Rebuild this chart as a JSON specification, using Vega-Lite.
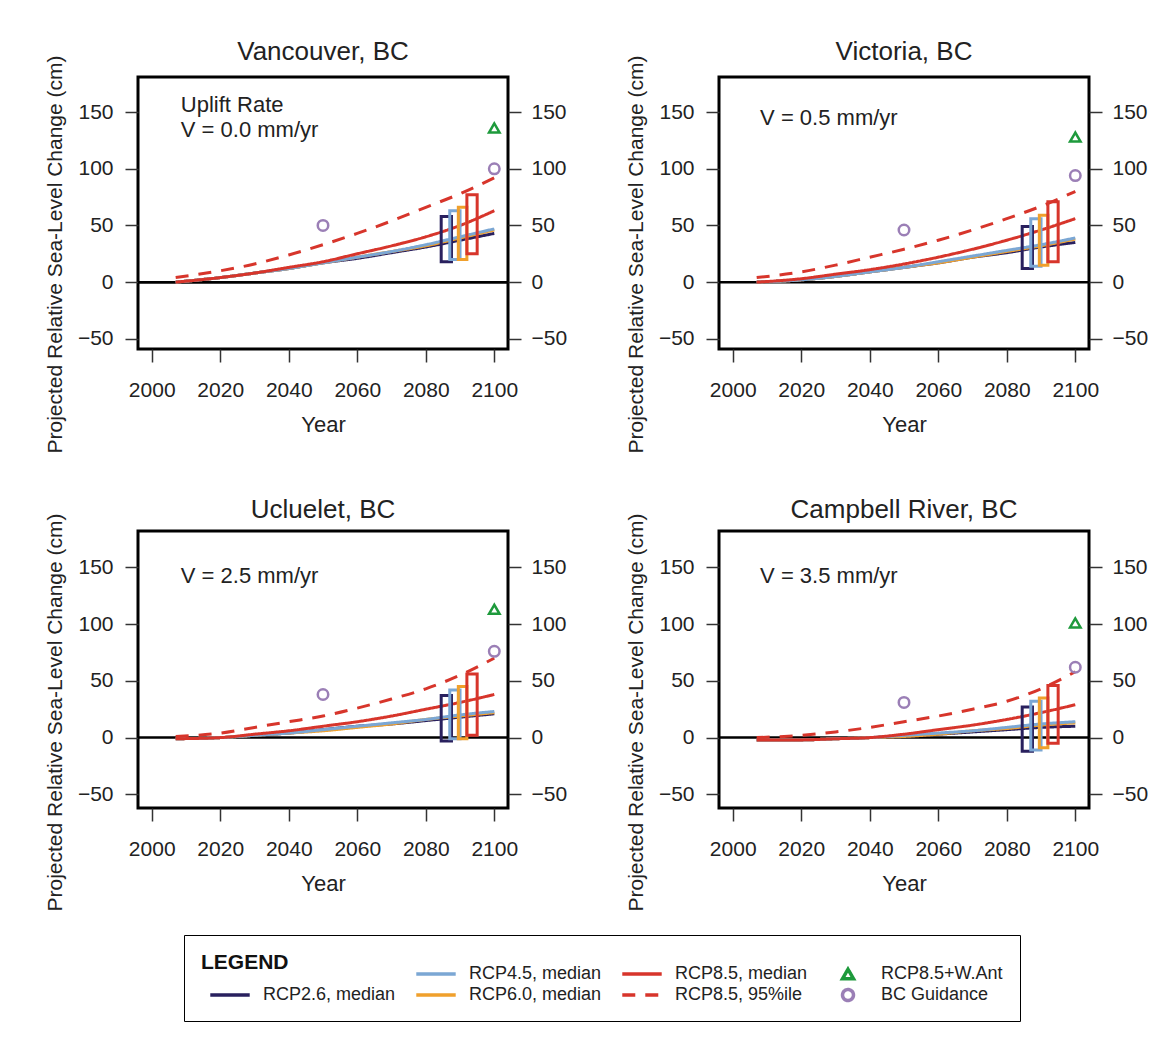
{
  "$schema": "https://vega.github.io/schema/vega-lite/v6.json",
  "background": "white",
  "padding": {"left": 42, "top": 37, "right": 5, "bottom": 5},
  "datasets": {
    "d": [
      {"city":"Vancouver, BC","kind":"note","series":" ","note":"Uplift Rate","year":2008.5,"cm":156},
      {"city":"Vancouver, BC","kind":"note","series":" ","note":"V = 0.0 mm/yr","year":2008.5,"cm":134},
      {"city":"Victoria, BC","kind":"note","series":" ","note":"V = 0.5 mm/yr","year":2008,"cm":145},
      {"city":"Ucluelet, BC","kind":"note","series":" ","note":"V = 2.5 mm/yr","year":2008.5,"cm":142},
      {"city":"Campbell River, BC","kind":"note","series":" ","note":"V = 3.5 mm/yr","year":2008,"cm":142},

      {"city":"Vancouver, BC","kind":"line","series":"RCP2.6, median","year":2007,"cm":0},
      {"city":"Vancouver, BC","kind":"line","series":"RCP2.6, median","year":2020,"cm":4},
      {"city":"Vancouver, BC","kind":"line","series":"RCP2.6, median","year":2030,"cm":8},
      {"city":"Vancouver, BC","kind":"line","series":"RCP2.6, median","year":2040,"cm":12},
      {"city":"Vancouver, BC","kind":"line","series":"RCP2.6, median","year":2050,"cm":17},
      {"city":"Vancouver, BC","kind":"line","series":"RCP2.6, median","year":2060,"cm":21},
      {"city":"Vancouver, BC","kind":"line","series":"RCP2.6, median","year":2070,"cm":26},
      {"city":"Vancouver, BC","kind":"line","series":"RCP2.6, median","year":2080,"cm":31},
      {"city":"Vancouver, BC","kind":"line","series":"RCP2.6, median","year":2090,"cm":37},
      {"city":"Vancouver, BC","kind":"line","series":"RCP2.6, median","year":2100,"cm":43},
      {"city":"Vancouver, BC","kind":"line","series":"RCP4.5, median","year":2007,"cm":0},
      {"city":"Vancouver, BC","kind":"line","series":"RCP4.5, median","year":2020,"cm":4},
      {"city":"Vancouver, BC","kind":"line","series":"RCP4.5, median","year":2030,"cm":8},
      {"city":"Vancouver, BC","kind":"line","series":"RCP4.5, median","year":2040,"cm":12},
      {"city":"Vancouver, BC","kind":"line","series":"RCP4.5, median","year":2050,"cm":17},
      {"city":"Vancouver, BC","kind":"line","series":"RCP4.5, median","year":2060,"cm":22},
      {"city":"Vancouver, BC","kind":"line","series":"RCP4.5, median","year":2070,"cm":27},
      {"city":"Vancouver, BC","kind":"line","series":"RCP4.5, median","year":2080,"cm":33},
      {"city":"Vancouver, BC","kind":"line","series":"RCP4.5, median","year":2090,"cm":40},
      {"city":"Vancouver, BC","kind":"line","series":"RCP4.5, median","year":2100,"cm":47},
      {"city":"Vancouver, BC","kind":"line","series":"RCP6.0, median","year":2007,"cm":0},
      {"city":"Vancouver, BC","kind":"line","series":"RCP6.0, median","year":2020,"cm":4},
      {"city":"Vancouver, BC","kind":"line","series":"RCP6.0, median","year":2030,"cm":8},
      {"city":"Vancouver, BC","kind":"line","series":"RCP6.0, median","year":2040,"cm":12},
      {"city":"Vancouver, BC","kind":"line","series":"RCP6.0, median","year":2050,"cm":17},
      {"city":"Vancouver, BC","kind":"line","series":"RCP6.0, median","year":2060,"cm":22},
      {"city":"Vancouver, BC","kind":"line","series":"RCP6.0, median","year":2070,"cm":27},
      {"city":"Vancouver, BC","kind":"line","series":"RCP6.0, median","year":2080,"cm":32},
      {"city":"Vancouver, BC","kind":"line","series":"RCP6.0, median","year":2090,"cm":39},
      {"city":"Vancouver, BC","kind":"line","series":"RCP6.0, median","year":2100,"cm":46},
      {"city":"Vancouver, BC","kind":"line","series":"RCP8.5, median","year":2007,"cm":0},
      {"city":"Vancouver, BC","kind":"line","series":"RCP8.5, median","year":2020,"cm":4},
      {"city":"Vancouver, BC","kind":"line","series":"RCP8.5, median","year":2030,"cm":8},
      {"city":"Vancouver, BC","kind":"line","series":"RCP8.5, median","year":2040,"cm":13},
      {"city":"Vancouver, BC","kind":"line","series":"RCP8.5, median","year":2050,"cm":18},
      {"city":"Vancouver, BC","kind":"line","series":"RCP8.5, median","year":2060,"cm":25},
      {"city":"Vancouver, BC","kind":"line","series":"RCP8.5, median","year":2070,"cm":32},
      {"city":"Vancouver, BC","kind":"line","series":"RCP8.5, median","year":2080,"cm":40},
      {"city":"Vancouver, BC","kind":"line","series":"RCP8.5, median","year":2090,"cm":50},
      {"city":"Vancouver, BC","kind":"line","series":"RCP8.5, median","year":2100,"cm":63},
      {"city":"Vancouver, BC","kind":"line","series":"RCP8.5, 95%ile","year":2007,"cm":4},
      {"city":"Vancouver, BC","kind":"line","series":"RCP8.5, 95%ile","year":2020,"cm":10},
      {"city":"Vancouver, BC","kind":"line","series":"RCP8.5, 95%ile","year":2030,"cm":16},
      {"city":"Vancouver, BC","kind":"line","series":"RCP8.5, 95%ile","year":2040,"cm":24},
      {"city":"Vancouver, BC","kind":"line","series":"RCP8.5, 95%ile","year":2050,"cm":33},
      {"city":"Vancouver, BC","kind":"line","series":"RCP8.5, 95%ile","year":2060,"cm":43},
      {"city":"Vancouver, BC","kind":"line","series":"RCP8.5, 95%ile","year":2070,"cm":54},
      {"city":"Vancouver, BC","kind":"line","series":"RCP8.5, 95%ile","year":2080,"cm":66},
      {"city":"Vancouver, BC","kind":"line","series":"RCP8.5, 95%ile","year":2090,"cm":78},
      {"city":"Vancouver, BC","kind":"line","series":"RCP8.5, 95%ile","year":2100,"cm":92},

      {"city":"Victoria, BC","kind":"line","series":"RCP2.6, median","year":2007,"cm":0},
      {"city":"Victoria, BC","kind":"line","series":"RCP2.6, median","year":2020,"cm":2},
      {"city":"Victoria, BC","kind":"line","series":"RCP2.6, median","year":2030,"cm":5},
      {"city":"Victoria, BC","kind":"line","series":"RCP2.6, median","year":2040,"cm":9},
      {"city":"Victoria, BC","kind":"line","series":"RCP2.6, median","year":2050,"cm":13},
      {"city":"Victoria, BC","kind":"line","series":"RCP2.6, median","year":2060,"cm":17},
      {"city":"Victoria, BC","kind":"line","series":"RCP2.6, median","year":2070,"cm":22},
      {"city":"Victoria, BC","kind":"line","series":"RCP2.6, median","year":2080,"cm":26},
      {"city":"Victoria, BC","kind":"line","series":"RCP2.6, median","year":2090,"cm":31},
      {"city":"Victoria, BC","kind":"line","series":"RCP2.6, median","year":2100,"cm":35},
      {"city":"Victoria, BC","kind":"line","series":"RCP4.5, median","year":2007,"cm":0},
      {"city":"Victoria, BC","kind":"line","series":"RCP4.5, median","year":2020,"cm":2},
      {"city":"Victoria, BC","kind":"line","series":"RCP4.5, median","year":2030,"cm":5},
      {"city":"Victoria, BC","kind":"line","series":"RCP4.5, median","year":2040,"cm":9},
      {"city":"Victoria, BC","kind":"line","series":"RCP4.5, median","year":2050,"cm":13},
      {"city":"Victoria, BC","kind":"line","series":"RCP4.5, median","year":2060,"cm":18},
      {"city":"Victoria, BC","kind":"line","series":"RCP4.5, median","year":2070,"cm":23},
      {"city":"Victoria, BC","kind":"line","series":"RCP4.5, median","year":2080,"cm":28},
      {"city":"Victoria, BC","kind":"line","series":"RCP4.5, median","year":2090,"cm":33},
      {"city":"Victoria, BC","kind":"line","series":"RCP4.5, median","year":2100,"cm":39},
      {"city":"Victoria, BC","kind":"line","series":"RCP6.0, median","year":2007,"cm":0},
      {"city":"Victoria, BC","kind":"line","series":"RCP6.0, median","year":2020,"cm":2},
      {"city":"Victoria, BC","kind":"line","series":"RCP6.0, median","year":2030,"cm":5},
      {"city":"Victoria, BC","kind":"line","series":"RCP6.0, median","year":2040,"cm":9},
      {"city":"Victoria, BC","kind":"line","series":"RCP6.0, median","year":2050,"cm":13},
      {"city":"Victoria, BC","kind":"line","series":"RCP6.0, median","year":2060,"cm":17},
      {"city":"Victoria, BC","kind":"line","series":"RCP6.0, median","year":2070,"cm":22},
      {"city":"Victoria, BC","kind":"line","series":"RCP6.0, median","year":2080,"cm":27},
      {"city":"Victoria, BC","kind":"line","series":"RCP6.0, median","year":2090,"cm":32},
      {"city":"Victoria, BC","kind":"line","series":"RCP6.0, median","year":2100,"cm":38},
      {"city":"Victoria, BC","kind":"line","series":"RCP8.5, median","year":2007,"cm":0},
      {"city":"Victoria, BC","kind":"line","series":"RCP8.5, median","year":2020,"cm":3},
      {"city":"Victoria, BC","kind":"line","series":"RCP8.5, median","year":2030,"cm":7},
      {"city":"Victoria, BC","kind":"line","series":"RCP8.5, median","year":2040,"cm":11},
      {"city":"Victoria, BC","kind":"line","series":"RCP8.5, median","year":2050,"cm":16},
      {"city":"Victoria, BC","kind":"line","series":"RCP8.5, median","year":2060,"cm":22},
      {"city":"Victoria, BC","kind":"line","series":"RCP8.5, median","year":2070,"cm":29},
      {"city":"Victoria, BC","kind":"line","series":"RCP8.5, median","year":2080,"cm":37},
      {"city":"Victoria, BC","kind":"line","series":"RCP8.5, median","year":2090,"cm":46},
      {"city":"Victoria, BC","kind":"line","series":"RCP8.5, median","year":2100,"cm":56},
      {"city":"Victoria, BC","kind":"line","series":"RCP8.5, 95%ile","year":2007,"cm":4},
      {"city":"Victoria, BC","kind":"line","series":"RCP8.5, 95%ile","year":2020,"cm":9},
      {"city":"Victoria, BC","kind":"line","series":"RCP8.5, 95%ile","year":2030,"cm":15},
      {"city":"Victoria, BC","kind":"line","series":"RCP8.5, 95%ile","year":2040,"cm":22},
      {"city":"Victoria, BC","kind":"line","series":"RCP8.5, 95%ile","year":2050,"cm":29},
      {"city":"Victoria, BC","kind":"line","series":"RCP8.5, 95%ile","year":2060,"cm":37},
      {"city":"Victoria, BC","kind":"line","series":"RCP8.5, 95%ile","year":2070,"cm":46},
      {"city":"Victoria, BC","kind":"line","series":"RCP8.5, 95%ile","year":2080,"cm":56},
      {"city":"Victoria, BC","kind":"line","series":"RCP8.5, 95%ile","year":2090,"cm":67},
      {"city":"Victoria, BC","kind":"line","series":"RCP8.5, 95%ile","year":2100,"cm":80},

      {"city":"Ucluelet, BC","kind":"line","series":"RCP2.6, median","year":2007,"cm":-1},
      {"city":"Ucluelet, BC","kind":"line","series":"RCP2.6, median","year":2020,"cm":0},
      {"city":"Ucluelet, BC","kind":"line","series":"RCP2.6, median","year":2030,"cm":2},
      {"city":"Ucluelet, BC","kind":"line","series":"RCP2.6, median","year":2040,"cm":4},
      {"city":"Ucluelet, BC","kind":"line","series":"RCP2.6, median","year":2050,"cm":7},
      {"city":"Ucluelet, BC","kind":"line","series":"RCP2.6, median","year":2060,"cm":10},
      {"city":"Ucluelet, BC","kind":"line","series":"RCP2.6, median","year":2070,"cm":12},
      {"city":"Ucluelet, BC","kind":"line","series":"RCP2.6, median","year":2080,"cm":15},
      {"city":"Ucluelet, BC","kind":"line","series":"RCP2.6, median","year":2090,"cm":18},
      {"city":"Ucluelet, BC","kind":"line","series":"RCP2.6, median","year":2100,"cm":21},
      {"city":"Ucluelet, BC","kind":"line","series":"RCP4.5, median","year":2007,"cm":-1},
      {"city":"Ucluelet, BC","kind":"line","series":"RCP4.5, median","year":2020,"cm":0},
      {"city":"Ucluelet, BC","kind":"line","series":"RCP4.5, median","year":2030,"cm":2},
      {"city":"Ucluelet, BC","kind":"line","series":"RCP4.5, median","year":2040,"cm":4},
      {"city":"Ucluelet, BC","kind":"line","series":"RCP4.5, median","year":2050,"cm":7},
      {"city":"Ucluelet, BC","kind":"line","series":"RCP4.5, median","year":2060,"cm":10},
      {"city":"Ucluelet, BC","kind":"line","series":"RCP4.5, median","year":2070,"cm":13},
      {"city":"Ucluelet, BC","kind":"line","series":"RCP4.5, median","year":2080,"cm":16},
      {"city":"Ucluelet, BC","kind":"line","series":"RCP4.5, median","year":2090,"cm":20},
      {"city":"Ucluelet, BC","kind":"line","series":"RCP4.5, median","year":2100,"cm":23},
      {"city":"Ucluelet, BC","kind":"line","series":"RCP6.0, median","year":2007,"cm":-1},
      {"city":"Ucluelet, BC","kind":"line","series":"RCP6.0, median","year":2020,"cm":0},
      {"city":"Ucluelet, BC","kind":"line","series":"RCP6.0, median","year":2030,"cm":2},
      {"city":"Ucluelet, BC","kind":"line","series":"RCP6.0, median","year":2040,"cm":4},
      {"city":"Ucluelet, BC","kind":"line","series":"RCP6.0, median","year":2050,"cm":6},
      {"city":"Ucluelet, BC","kind":"line","series":"RCP6.0, median","year":2060,"cm":9},
      {"city":"Ucluelet, BC","kind":"line","series":"RCP6.0, median","year":2070,"cm":12},
      {"city":"Ucluelet, BC","kind":"line","series":"RCP6.0, median","year":2080,"cm":16},
      {"city":"Ucluelet, BC","kind":"line","series":"RCP6.0, median","year":2090,"cm":19},
      {"city":"Ucluelet, BC","kind":"line","series":"RCP6.0, median","year":2100,"cm":22},
      {"city":"Ucluelet, BC","kind":"line","series":"RCP8.5, median","year":2007,"cm":-1},
      {"city":"Ucluelet, BC","kind":"line","series":"RCP8.5, median","year":2020,"cm":0},
      {"city":"Ucluelet, BC","kind":"line","series":"RCP8.5, median","year":2030,"cm":3},
      {"city":"Ucluelet, BC","kind":"line","series":"RCP8.5, median","year":2040,"cm":6},
      {"city":"Ucluelet, BC","kind":"line","series":"RCP8.5, median","year":2050,"cm":10},
      {"city":"Ucluelet, BC","kind":"line","series":"RCP8.5, median","year":2060,"cm":14},
      {"city":"Ucluelet, BC","kind":"line","series":"RCP8.5, median","year":2070,"cm":19},
      {"city":"Ucluelet, BC","kind":"line","series":"RCP8.5, median","year":2080,"cm":25},
      {"city":"Ucluelet, BC","kind":"line","series":"RCP8.5, median","year":2090,"cm":31},
      {"city":"Ucluelet, BC","kind":"line","series":"RCP8.5, median","year":2100,"cm":38},
      {"city":"Ucluelet, BC","kind":"line","series":"RCP8.5, 95%ile","year":2007,"cm":1},
      {"city":"Ucluelet, BC","kind":"line","series":"RCP8.5, 95%ile","year":2020,"cm":4},
      {"city":"Ucluelet, BC","kind":"line","series":"RCP8.5, 95%ile","year":2030,"cm":9},
      {"city":"Ucluelet, BC","kind":"line","series":"RCP8.5, 95%ile","year":2040,"cm":14},
      {"city":"Ucluelet, BC","kind":"line","series":"RCP8.5, 95%ile","year":2050,"cm":19},
      {"city":"Ucluelet, BC","kind":"line","series":"RCP8.5, 95%ile","year":2060,"cm":26},
      {"city":"Ucluelet, BC","kind":"line","series":"RCP8.5, 95%ile","year":2070,"cm":34},
      {"city":"Ucluelet, BC","kind":"line","series":"RCP8.5, 95%ile","year":2080,"cm":43},
      {"city":"Ucluelet, BC","kind":"line","series":"RCP8.5, 95%ile","year":2090,"cm":55},
      {"city":"Ucluelet, BC","kind":"line","series":"RCP8.5, 95%ile","year":2100,"cm":70},

      {"city":"Campbell River, BC","kind":"line","series":"RCP2.6, median","year":2007,"cm":-2},
      {"city":"Campbell River, BC","kind":"line","series":"RCP2.6, median","year":2020,"cm":-2},
      {"city":"Campbell River, BC","kind":"line","series":"RCP2.6, median","year":2030,"cm":-1},
      {"city":"Campbell River, BC","kind":"line","series":"RCP2.6, median","year":2040,"cm":0},
      {"city":"Campbell River, BC","kind":"line","series":"RCP2.6, median","year":2050,"cm":1},
      {"city":"Campbell River, BC","kind":"line","series":"RCP2.6, median","year":2060,"cm":3},
      {"city":"Campbell River, BC","kind":"line","series":"RCP2.6, median","year":2070,"cm":5},
      {"city":"Campbell River, BC","kind":"line","series":"RCP2.6, median","year":2080,"cm":7},
      {"city":"Campbell River, BC","kind":"line","series":"RCP2.6, median","year":2090,"cm":9},
      {"city":"Campbell River, BC","kind":"line","series":"RCP2.6, median","year":2100,"cm":10},
      {"city":"Campbell River, BC","kind":"line","series":"RCP4.5, median","year":2007,"cm":-2},
      {"city":"Campbell River, BC","kind":"line","series":"RCP4.5, median","year":2020,"cm":-2},
      {"city":"Campbell River, BC","kind":"line","series":"RCP4.5, median","year":2030,"cm":-1},
      {"city":"Campbell River, BC","kind":"line","series":"RCP4.5, median","year":2040,"cm":0},
      {"city":"Campbell River, BC","kind":"line","series":"RCP4.5, median","year":2050,"cm":2},
      {"city":"Campbell River, BC","kind":"line","series":"RCP4.5, median","year":2060,"cm":4},
      {"city":"Campbell River, BC","kind":"line","series":"RCP4.5, median","year":2070,"cm":6},
      {"city":"Campbell River, BC","kind":"line","series":"RCP4.5, median","year":2080,"cm":9},
      {"city":"Campbell River, BC","kind":"line","series":"RCP4.5, median","year":2090,"cm":12},
      {"city":"Campbell River, BC","kind":"line","series":"RCP4.5, median","year":2100,"cm":14},
      {"city":"Campbell River, BC","kind":"line","series":"RCP6.0, median","year":2007,"cm":-2},
      {"city":"Campbell River, BC","kind":"line","series":"RCP6.0, median","year":2020,"cm":-2},
      {"city":"Campbell River, BC","kind":"line","series":"RCP6.0, median","year":2030,"cm":-1},
      {"city":"Campbell River, BC","kind":"line","series":"RCP6.0, median","year":2040,"cm":0},
      {"city":"Campbell River, BC","kind":"line","series":"RCP6.0, median","year":2050,"cm":1},
      {"city":"Campbell River, BC","kind":"line","series":"RCP6.0, median","year":2060,"cm":3},
      {"city":"Campbell River, BC","kind":"line","series":"RCP6.0, median","year":2070,"cm":6},
      {"city":"Campbell River, BC","kind":"line","series":"RCP6.0, median","year":2080,"cm":8},
      {"city":"Campbell River, BC","kind":"line","series":"RCP6.0, median","year":2090,"cm":11},
      {"city":"Campbell River, BC","kind":"line","series":"RCP6.0, median","year":2100,"cm":13},
      {"city":"Campbell River, BC","kind":"line","series":"RCP8.5, median","year":2007,"cm":-2},
      {"city":"Campbell River, BC","kind":"line","series":"RCP8.5, median","year":2020,"cm":-2},
      {"city":"Campbell River, BC","kind":"line","series":"RCP8.5, median","year":2030,"cm":-1},
      {"city":"Campbell River, BC","kind":"line","series":"RCP8.5, median","year":2040,"cm":0},
      {"city":"Campbell River, BC","kind":"line","series":"RCP8.5, median","year":2050,"cm":3},
      {"city":"Campbell River, BC","kind":"line","series":"RCP8.5, median","year":2060,"cm":7},
      {"city":"Campbell River, BC","kind":"line","series":"RCP8.5, median","year":2070,"cm":11},
      {"city":"Campbell River, BC","kind":"line","series":"RCP8.5, median","year":2080,"cm":16},
      {"city":"Campbell River, BC","kind":"line","series":"RCP8.5, median","year":2090,"cm":22},
      {"city":"Campbell River, BC","kind":"line","series":"RCP8.5, median","year":2100,"cm":29},
      {"city":"Campbell River, BC","kind":"line","series":"RCP8.5, 95%ile","year":2007,"cm":0},
      {"city":"Campbell River, BC","kind":"line","series":"RCP8.5, 95%ile","year":2020,"cm":2},
      {"city":"Campbell River, BC","kind":"line","series":"RCP8.5, 95%ile","year":2030,"cm":5},
      {"city":"Campbell River, BC","kind":"line","series":"RCP8.5, 95%ile","year":2040,"cm":9},
      {"city":"Campbell River, BC","kind":"line","series":"RCP8.5, 95%ile","year":2050,"cm":14},
      {"city":"Campbell River, BC","kind":"line","series":"RCP8.5, 95%ile","year":2060,"cm":19},
      {"city":"Campbell River, BC","kind":"line","series":"RCP8.5, 95%ile","year":2070,"cm":25},
      {"city":"Campbell River, BC","kind":"line","series":"RCP8.5, 95%ile","year":2080,"cm":32},
      {"city":"Campbell River, BC","kind":"line","series":"RCP8.5, 95%ile","year":2090,"cm":43},
      {"city":"Campbell River, BC","kind":"line","series":"RCP8.5, 95%ile","year":2100,"cm":58},

      {"city":"Vancouver, BC","kind":"box","series":"RCP2.6, median","year":2084.5,"year2":2087.5,"cm":18,"cm2":58},
      {"city":"Vancouver, BC","kind":"box","series":"RCP4.5, median","year":2087,"year2":2090,"cm":20,"cm2":63},
      {"city":"Vancouver, BC","kind":"box","series":"RCP6.0, median","year":2089.5,"year2":2092,"cm":20,"cm2":66},
      {"city":"Vancouver, BC","kind":"box","series":"RCP8.5, median","year":2092,"year2":2095,"cm":25,"cm2":77},
      {"city":"Victoria, BC","kind":"box","series":"RCP2.6, median","year":2084.5,"year2":2087.5,"cm":12,"cm2":49},
      {"city":"Victoria, BC","kind":"box","series":"RCP4.5, median","year":2087,"year2":2090,"cm":14,"cm2":56},
      {"city":"Victoria, BC","kind":"box","series":"RCP6.0, median","year":2089.5,"year2":2092,"cm":15,"cm2":59},
      {"city":"Victoria, BC","kind":"box","series":"RCP8.5, median","year":2092,"year2":2095,"cm":18,"cm2":71},
      {"city":"Ucluelet, BC","kind":"box","series":"RCP2.6, median","year":2084.5,"year2":2087.5,"cm":-3,"cm2":37},
      {"city":"Ucluelet, BC","kind":"box","series":"RCP4.5, median","year":2087,"year2":2090,"cm":-1,"cm2":42},
      {"city":"Ucluelet, BC","kind":"box","series":"RCP6.0, median","year":2089.5,"year2":2092,"cm":-1,"cm2":45},
      {"city":"Ucluelet, BC","kind":"box","series":"RCP8.5, median","year":2092,"year2":2095,"cm":2,"cm2":56},
      {"city":"Campbell River, BC","kind":"box","series":"RCP2.6, median","year":2084.5,"year2":2087.5,"cm":-12,"cm2":27},
      {"city":"Campbell River, BC","kind":"box","series":"RCP4.5, median","year":2087,"year2":2090,"cm":-11,"cm2":32},
      {"city":"Campbell River, BC","kind":"box","series":"RCP6.0, median","year":2089.5,"year2":2092,"cm":-9,"cm2":35},
      {"city":"Campbell River, BC","kind":"box","series":"RCP8.5, median","year":2092,"year2":2095,"cm":-5,"cm2":46},

      {"city":"Vancouver, BC","kind":"point","series":"BC Guidance","year":2050,"cm":50},
      {"city":"Vancouver, BC","kind":"point","series":"BC Guidance","year":2100,"cm":100},
      {"city":"Vancouver, BC","kind":"point","series":"RCP8.5+W.Ant","year":2100,"cm":136},
      {"city":"Victoria, BC","kind":"point","series":"BC Guidance","year":2050,"cm":46},
      {"city":"Victoria, BC","kind":"point","series":"BC Guidance","year":2100,"cm":94},
      {"city":"Victoria, BC","kind":"point","series":"RCP8.5+W.Ant","year":2100,"cm":128},
      {"city":"Ucluelet, BC","kind":"point","series":"BC Guidance","year":2050,"cm":38},
      {"city":"Ucluelet, BC","kind":"point","series":"BC Guidance","year":2100,"cm":76},
      {"city":"Ucluelet, BC","kind":"point","series":"RCP8.5+W.Ant","year":2100,"cm":113},
      {"city":"Campbell River, BC","kind":"point","series":"BC Guidance","year":2050,"cm":31},
      {"city":"Campbell River, BC","kind":"point","series":"BC Guidance","year":2100,"cm":62},
      {"city":"Campbell River, BC","kind":"point","series":"RCP8.5+W.Ant","year":2100,"cm":101}
    ]
  },
  "concat": [
    {
      "width": 370, "height": 272,
      "title": "Vancouver, BC",
      "data": {"name": "d"},
      "transform": [{"filter": "datum.city === 'Vancouver, BC'"}],
      "encoding": {
        "x": {"field": "year", "type": "quantitative", "title": "Year", "scale": {"domain": [1996, 2104], "nice": false, "zero": false}, "axis": {"values": [2000, 2020, 2040, 2060, 2080, 2100], "format": "d"}},
        "y": {"field": "cm", "type": "quantitative", "scale": {"domain": [-59, 181], "nice": false, "zero": false}, "axis": null},
        "color": {"field": "series", "type": "nominal", "title": "LEGEND", "scale": {"domain": [" ", "RCP2.6, median", "RCP4.5, median", "RCP6.0, median", "RCP8.5, median", "RCP8.5, 95%ile", "RCP8.5+W.Ant", "BC Guidance"], "range": ["#ffffff", "#29205e", "#7ba7d4", "#f0a02c", "#d7352b", "#d7352b", "#1e9a3c", "#9b7fb6"]}}
      },
      "layer": [
        {"transform": [{"filter": "datum.kind === 'note'"}], "mark": {"type": "rule", "strokeWidth": 2.5},
         "encoding": {"x": {"datum": 1996, "type": "quantitative"}, "x2": {"datum": 2104}, "color": {"value": "black"},
           "y": {"datum": 0, "type": "quantitative", "scale": {"domain": [-59, 181], "nice": false, "zero": false}, "axis": {"orient": "left", "title": "Projected Relative Sea-Level Change (cm)", "titleFontSize": 21, "values": [-50, 0, 50, 100, 150], "labelPadding": 12, "titlePadding": 12, "titleY": 177}}}},
        {"transform": [{"filter": "datum.kind === 'line' && (datum.series === 'RCP6.0, median' || datum.series === 'RCP2.6, median')"}], "mark": {"type": "line", "strokeWidth": 3, "interpolate": "monotone"},
         "encoding": {"strokeDash": {"field": "series", "type": "nominal", "title": "LEGEND", "scale": {"domain": [" ", "RCP2.6, median", "RCP4.5, median", "RCP6.0, median", "RCP8.5, median", "RCP8.5, 95%ile", "RCP8.5+W.Ant", "BC Guidance"], "range": [[1, 0], [1, 0], [1, 0], [1, 0], [1, 0], [13, 10], [1, 0], [1, 0]]}}}},
        {"transform": [{"filter": "datum.kind === 'line' && datum.series !== 'RCP6.0, median' && datum.series !== 'RCP2.6, median'"}], "mark": {"type": "line", "strokeWidth": 3, "interpolate": "monotone"},
         "encoding": {"strokeDash": {"field": "series", "type": "nominal", "title": "LEGEND", "scale": {"domain": [" ", "RCP2.6, median", "RCP4.5, median", "RCP6.0, median", "RCP8.5, median", "RCP8.5, 95%ile", "RCP8.5+W.Ant", "BC Guidance"], "range": [[1, 0], [1, 0], [1, 0], [1, 0], [1, 0], [13, 10], [1, 0], [1, 0]]}}}},
        {"transform": [{"filter": "datum.kind === 'box'"}], "mark": {"type": "rect", "filled": false, "strokeWidth": 3}, "encoding": {"x2": {"field": "year2"}, "y2": {"field": "cm2"}}},
        {"transform": [{"filter": "datum.kind === 'point'"}], "mark": {"type": "point", "filled": false, "size": 110, "strokeWidth": 2.5, "opacity": 1},
         "encoding": {
           "shape": {"field": "series", "type": "nominal", "title": "LEGEND", "scale": {"domain": [" ", "RCP2.6, median", "RCP4.5, median", "RCP6.0, median", "RCP8.5, median", "RCP8.5, 95%ile", "RCP8.5+W.Ant", "BC Guidance"], "range": ["M-3.6,0H3.6", "M-3.6,0H3.6", "M-3.6,0H3.6", "M-3.6,0H3.6", "M-3.6,0H3.6", "M-3.6,0H3.6", "triangle-up", "circle"]}},
           "y": {"field": "cm", "type": "quantitative", "scale": {"domain": [-59, 181], "nice": false, "zero": false}, "axis": {"orient": "right", "title": null, "values": [-50, 0, 50, 100, 150], "labelPadding": 10}}}},
        {"transform": [{"filter": "datum.kind === 'note'"}], "mark": {"type": "text", "align": "left", "baseline": "middle", "fontSize": 22}, "encoding": {"text": {"field": "note"}, "color": {"value": "#222222"}}}
      ],
      "resolve": {"axis": {"y": "independent"}}
    },
    {
      "width": 370, "height": 272,
      "title": "Victoria, BC",
      "data": {"name": "d"},
      "transform": [{"filter": "datum.city === 'Victoria, BC'"}],
      "encoding": {
        "x": {"field": "year", "type": "quantitative", "title": "Year", "scale": {"domain": [1996, 2104], "nice": false, "zero": false}, "axis": {"values": [2000, 2020, 2040, 2060, 2080, 2100], "format": "d"}},
        "y": {"field": "cm", "type": "quantitative", "scale": {"domain": [-59, 181], "nice": false, "zero": false}, "axis": null},
        "color": {"field": "series", "type": "nominal", "title": "LEGEND", "scale": {"domain": [" ", "RCP2.6, median", "RCP4.5, median", "RCP6.0, median", "RCP8.5, median", "RCP8.5, 95%ile", "RCP8.5+W.Ant", "BC Guidance"], "range": ["#ffffff", "#29205e", "#7ba7d4", "#f0a02c", "#d7352b", "#d7352b", "#1e9a3c", "#9b7fb6"]}}
      },
      "layer": [
        {"transform": [{"filter": "datum.kind === 'note'"}], "mark": {"type": "rule", "strokeWidth": 2.5},
         "encoding": {"x": {"datum": 1996, "type": "quantitative"}, "x2": {"datum": 2104}, "color": {"value": "black"},
           "y": {"datum": 0, "type": "quantitative", "scale": {"domain": [-59, 181], "nice": false, "zero": false}, "axis": {"orient": "left", "title": "Projected Relative Sea-Level Change (cm)", "titleFontSize": 21, "values": [-50, 0, 50, 100, 150], "labelPadding": 12, "titlePadding": 12, "titleY": 177}}}},
        {"transform": [{"filter": "datum.kind === 'line' && (datum.series === 'RCP6.0, median' || datum.series === 'RCP2.6, median')"}], "mark": {"type": "line", "strokeWidth": 3, "interpolate": "monotone"},
         "encoding": {"strokeDash": {"field": "series", "type": "nominal", "title": "LEGEND", "scale": {"domain": [" ", "RCP2.6, median", "RCP4.5, median", "RCP6.0, median", "RCP8.5, median", "RCP8.5, 95%ile", "RCP8.5+W.Ant", "BC Guidance"], "range": [[1, 0], [1, 0], [1, 0], [1, 0], [1, 0], [13, 10], [1, 0], [1, 0]]}}}},
        {"transform": [{"filter": "datum.kind === 'line' && datum.series !== 'RCP6.0, median' && datum.series !== 'RCP2.6, median'"}], "mark": {"type": "line", "strokeWidth": 3, "interpolate": "monotone"},
         "encoding": {"strokeDash": {"field": "series", "type": "nominal", "title": "LEGEND", "scale": {"domain": [" ", "RCP2.6, median", "RCP4.5, median", "RCP6.0, median", "RCP8.5, median", "RCP8.5, 95%ile", "RCP8.5+W.Ant", "BC Guidance"], "range": [[1, 0], [1, 0], [1, 0], [1, 0], [1, 0], [13, 10], [1, 0], [1, 0]]}}}},
        {"transform": [{"filter": "datum.kind === 'box'"}], "mark": {"type": "rect", "filled": false, "strokeWidth": 3}, "encoding": {"x2": {"field": "year2"}, "y2": {"field": "cm2"}}},
        {"transform": [{"filter": "datum.kind === 'point'"}], "mark": {"type": "point", "filled": false, "size": 110, "strokeWidth": 2.5, "opacity": 1},
         "encoding": {
           "shape": {"field": "series", "type": "nominal", "title": "LEGEND", "scale": {"domain": [" ", "RCP2.6, median", "RCP4.5, median", "RCP6.0, median", "RCP8.5, median", "RCP8.5, 95%ile", "RCP8.5+W.Ant", "BC Guidance"], "range": ["M-3.6,0H3.6", "M-3.6,0H3.6", "M-3.6,0H3.6", "M-3.6,0H3.6", "M-3.6,0H3.6", "M-3.6,0H3.6", "triangle-up", "circle"]}},
           "y": {"field": "cm", "type": "quantitative", "scale": {"domain": [-59, 181], "nice": false, "zero": false}, "axis": {"orient": "right", "title": null, "values": [-50, 0, 50, 100, 150], "labelPadding": 10}}}},
        {"transform": [{"filter": "datum.kind === 'note'"}], "mark": {"type": "text", "align": "left", "baseline": "middle", "fontSize": 22}, "encoding": {"text": {"field": "note"}, "color": {"value": "#222222"}}}
      ],
      "resolve": {"axis": {"y": "independent"}}
    },
    {
      "width": 370, "height": 277,
      "title": "Ucluelet, BC",
      "data": {"name": "d"},
      "transform": [{"filter": "datum.city === 'Ucluelet, BC'"}],
      "encoding": {
        "x": {"field": "year", "type": "quantitative", "title": "Year", "scale": {"domain": [1996, 2104], "nice": false, "zero": false}, "axis": {"values": [2000, 2020, 2040, 2060, 2080, 2100], "format": "d"}},
        "y": {"field": "cm", "type": "quantitative", "scale": {"domain": [-62, 182], "nice": false, "zero": false}, "axis": null},
        "color": {"field": "series", "type": "nominal", "title": "LEGEND", "scale": {"domain": [" ", "RCP2.6, median", "RCP4.5, median", "RCP6.0, median", "RCP8.5, median", "RCP8.5, 95%ile", "RCP8.5+W.Ant", "BC Guidance"], "range": ["#ffffff", "#29205e", "#7ba7d4", "#f0a02c", "#d7352b", "#d7352b", "#1e9a3c", "#9b7fb6"]}}
      },
      "layer": [
        {"transform": [{"filter": "datum.kind === 'note'"}], "mark": {"type": "rule", "strokeWidth": 2.5},
         "encoding": {"x": {"datum": 1996, "type": "quantitative"}, "x2": {"datum": 2104}, "color": {"value": "black"},
           "y": {"datum": 0, "type": "quantitative", "scale": {"domain": [-62, 182], "nice": false, "zero": false}, "axis": {"orient": "left", "title": "Projected Relative Sea-Level Change (cm)", "titleFontSize": 21, "values": [-50, 0, 50, 100, 150], "labelPadding": 12, "titlePadding": 12, "titleY": 181}}}},
        {"transform": [{"filter": "datum.kind === 'line' && (datum.series === 'RCP6.0, median' || datum.series === 'RCP2.6, median')"}], "mark": {"type": "line", "strokeWidth": 3, "interpolate": "monotone"},
         "encoding": {"strokeDash": {"field": "series", "type": "nominal", "title": "LEGEND", "scale": {"domain": [" ", "RCP2.6, median", "RCP4.5, median", "RCP6.0, median", "RCP8.5, median", "RCP8.5, 95%ile", "RCP8.5+W.Ant", "BC Guidance"], "range": [[1, 0], [1, 0], [1, 0], [1, 0], [1, 0], [13, 10], [1, 0], [1, 0]]}}}},
        {"transform": [{"filter": "datum.kind === 'line' && datum.series !== 'RCP6.0, median' && datum.series !== 'RCP2.6, median'"}], "mark": {"type": "line", "strokeWidth": 3, "interpolate": "monotone"},
         "encoding": {"strokeDash": {"field": "series", "type": "nominal", "title": "LEGEND", "scale": {"domain": [" ", "RCP2.6, median", "RCP4.5, median", "RCP6.0, median", "RCP8.5, median", "RCP8.5, 95%ile", "RCP8.5+W.Ant", "BC Guidance"], "range": [[1, 0], [1, 0], [1, 0], [1, 0], [1, 0], [13, 10], [1, 0], [1, 0]]}}}},
        {"transform": [{"filter": "datum.kind === 'box'"}], "mark": {"type": "rect", "filled": false, "strokeWidth": 3}, "encoding": {"x2": {"field": "year2"}, "y2": {"field": "cm2"}}},
        {"transform": [{"filter": "datum.kind === 'point'"}], "mark": {"type": "point", "filled": false, "size": 110, "strokeWidth": 2.5, "opacity": 1},
         "encoding": {
           "shape": {"field": "series", "type": "nominal", "title": "LEGEND", "scale": {"domain": [" ", "RCP2.6, median", "RCP4.5, median", "RCP6.0, median", "RCP8.5, median", "RCP8.5, 95%ile", "RCP8.5+W.Ant", "BC Guidance"], "range": ["M-3.6,0H3.6", "M-3.6,0H3.6", "M-3.6,0H3.6", "M-3.6,0H3.6", "M-3.6,0H3.6", "M-3.6,0H3.6", "triangle-up", "circle"]}},
           "y": {"field": "cm", "type": "quantitative", "scale": {"domain": [-62, 182], "nice": false, "zero": false}, "axis": {"orient": "right", "title": null, "values": [-50, 0, 50, 100, 150], "labelPadding": 10}}}},
        {"transform": [{"filter": "datum.kind === 'note'"}], "mark": {"type": "text", "align": "left", "baseline": "middle", "fontSize": 22}, "encoding": {"text": {"field": "note"}, "color": {"value": "#222222"}}}
      ],
      "resolve": {"axis": {"y": "independent"}}
    },
    {
      "width": 370, "height": 277,
      "title": "Campbell River, BC",
      "data": {"name": "d"},
      "transform": [{"filter": "datum.city === 'Campbell River, BC'"}],
      "encoding": {
        "x": {"field": "year", "type": "quantitative", "title": "Year", "scale": {"domain": [1996, 2104], "nice": false, "zero": false}, "axis": {"values": [2000, 2020, 2040, 2060, 2080, 2100], "format": "d"}},
        "y": {"field": "cm", "type": "quantitative", "scale": {"domain": [-62, 182], "nice": false, "zero": false}, "axis": null},
        "color": {"field": "series", "type": "nominal", "title": "LEGEND", "scale": {"domain": [" ", "RCP2.6, median", "RCP4.5, median", "RCP6.0, median", "RCP8.5, median", "RCP8.5, 95%ile", "RCP8.5+W.Ant", "BC Guidance"], "range": ["#ffffff", "#29205e", "#7ba7d4", "#f0a02c", "#d7352b", "#d7352b", "#1e9a3c", "#9b7fb6"]}}
      },
      "layer": [
        {"transform": [{"filter": "datum.kind === 'note'"}], "mark": {"type": "rule", "strokeWidth": 2.5},
         "encoding": {"x": {"datum": 1996, "type": "quantitative"}, "x2": {"datum": 2104}, "color": {"value": "black"},
           "y": {"datum": 0, "type": "quantitative", "scale": {"domain": [-62, 182], "nice": false, "zero": false}, "axis": {"orient": "left", "title": "Projected Relative Sea-Level Change (cm)", "titleFontSize": 21, "values": [-50, 0, 50, 100, 150], "labelPadding": 12, "titlePadding": 12, "titleY": 181}}}},
        {"transform": [{"filter": "datum.kind === 'line' && (datum.series === 'RCP6.0, median' || datum.series === 'RCP2.6, median')"}], "mark": {"type": "line", "strokeWidth": 3, "interpolate": "monotone"},
         "encoding": {"strokeDash": {"field": "series", "type": "nominal", "title": "LEGEND", "scale": {"domain": [" ", "RCP2.6, median", "RCP4.5, median", "RCP6.0, median", "RCP8.5, median", "RCP8.5, 95%ile", "RCP8.5+W.Ant", "BC Guidance"], "range": [[1, 0], [1, 0], [1, 0], [1, 0], [1, 0], [13, 10], [1, 0], [1, 0]]}}}},
        {"transform": [{"filter": "datum.kind === 'line' && datum.series !== 'RCP6.0, median' && datum.series !== 'RCP2.6, median'"}], "mark": {"type": "line", "strokeWidth": 3, "interpolate": "monotone"},
         "encoding": {"strokeDash": {"field": "series", "type": "nominal", "title": "LEGEND", "scale": {"domain": [" ", "RCP2.6, median", "RCP4.5, median", "RCP6.0, median", "RCP8.5, median", "RCP8.5, 95%ile", "RCP8.5+W.Ant", "BC Guidance"], "range": [[1, 0], [1, 0], [1, 0], [1, 0], [1, 0], [13, 10], [1, 0], [1, 0]]}}}},
        {"transform": [{"filter": "datum.kind === 'box'"}], "mark": {"type": "rect", "filled": false, "strokeWidth": 3}, "encoding": {"x2": {"field": "year2"}, "y2": {"field": "cm2"}}},
        {"transform": [{"filter": "datum.kind === 'point'"}], "mark": {"type": "point", "filled": false, "size": 110, "strokeWidth": 2.5, "opacity": 1},
         "encoding": {
           "shape": {"field": "series", "type": "nominal", "title": "LEGEND", "scale": {"domain": [" ", "RCP2.6, median", "RCP4.5, median", "RCP6.0, median", "RCP8.5, median", "RCP8.5, 95%ile", "RCP8.5+W.Ant", "BC Guidance"], "range": ["M-3.6,0H3.6", "M-3.6,0H3.6", "M-3.6,0H3.6", "M-3.6,0H3.6", "M-3.6,0H3.6", "M-3.6,0H3.6", "triangle-up", "circle"]}},
           "y": {"field": "cm", "type": "quantitative", "scale": {"domain": [-62, 182], "nice": false, "zero": false}, "axis": {"orient": "right", "title": null, "values": [-50, 0, 50, 100, 150], "labelPadding": 10}}}},
        {"transform": [{"filter": "datum.kind === 'note'"}], "mark": {"type": "text", "align": "left", "baseline": "middle", "fontSize": 22}, "encoding": {"text": {"field": "note"}, "color": {"value": "#222222"}}}
      ],
      "resolve": {"axis": {"y": "independent"}}
    }
  ],
  "columns": 2,
  "spacing": {"row": 182, "column": 211},
  "bounds": "flush",
  "config": {
    "font": "Liberation Sans",
    "view": {"stroke": "black", "strokeWidth": 3},
    "axis": {"grid": false, "domain": false, "tickColor": "#333333", "tickWidth": 1.5, "tickSize": 13, "labelFontSize": 21, "labelColor": "#222222", "titleFontSize": 22, "titleFontWeight": "normal", "titleColor": "#222222", "labelFlush": false},
    "axisX": {"labelPadding": 17, "titlePadding": 14},
    "title": {"fontSize": 26, "fontWeight": "normal", "color": "#222222", "frame": "group", "offset": -10, "baseline": "alphabetic"},
    "legend": {"orient": "none", "legendX": 46, "legendY": 858, "titleFontSize": 21, "titleFontWeight": "bold", "titleColor": "#111111", "titleAnchor": "start", "titlePadding": -8, "columns": 4, "columnPadding": 11, "rowPadding": 3, "gridAlign": "all", "clipHeight": 18, "symbolSize": 120, "symbolStrokeWidth": 3.5, "symbolOffset": 20, "labelFontSize": 18, "labelOffset": 24, "labelLimit": 300, "labelColor": "#222222", "padding": 17, "strokeColor": "black"}
  }
}
